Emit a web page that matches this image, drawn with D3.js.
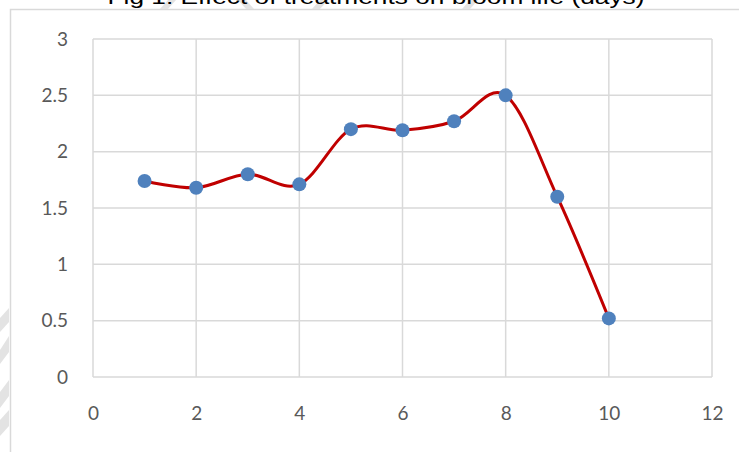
<!DOCTYPE html>
<html>
<head>
<meta charset="utf-8">
<script src="https://cdn.jsdelivr.net/npm/d3@7"></script>
<style>
  body { margin: 0; background: #fff; }
  svg { display: block; }
</style>
</head>
<body>
<script>
// values
const treatments = [1, 2, 3, 4, 5, 6, 7, 8, 9, 10];
const bloomLife = [1.74, 1.68, 1.80, 1.71, 2.20, 2.19, 2.27, 2.50, 1.60, 0.52];
const xTicks = [0, 2, 4, 6, 8, 10, 12];
const yTicks = [0, 0.5, 1, 1.5, 2, 2.5, 3];
const title = "Fig 1: Effect of treatments on bloom life (days)";

const W = 739, H = 452;
const margin = {top: 39, right: 27, bottom: 75, left: 93};
const width = W - margin.left - margin.right;
const height = H - margin.top - margin.bottom;

const svg = d3.select("body").append("svg")
  .attr("width", W)
  .attr("height", H);

// chart frame (extends past the crop on right/bottom)
svg.append("rect")
  .attr("x", 10.5).attr("y", 9.5)
  .attr("width", W + 20).attr("height", H + 20)
  .attr("fill", "none")
  .attr("stroke", "#d9d9d9")
  .attr("stroke-width", 1.5);

// faint watermark fragments
const wm = svg.append("g").attr("fill", "#e3e3e3");
wm.append("polygon").attr("points", "0,318 9,308 9,322 0,332");
wm.append("polygon").attr("points", "0,350 9,336 9,352 0,364");
wm.append("polygon").attr("points", "0,392 9,380 9,396 0,408");
wm.append("polygon").attr("points", "0,420 9,410 9,426 0,436");
wm.append("polygon").attr("points", "160,9 168,0 176,0 168,9");
wm.append("polygon").attr("points", "238,0 246,0 254,9 246,9");
wm.append("polygon").attr("points", "312,9 320,0 328,0 320,9");
wm.append("polygon").attr("points", "462,9 470,0 478,0 470,9");

const g = svg.append("g")
  .attr("transform", "translate(" + margin.left + "," + margin.top + ")");

const x = d3.scaleLinear().domain([0, 12]).range([0, width]);
const y = d3.scaleLinear().domain([0, 3]).range([height, 0]);

// gridlines
g.append("g")
  .selectAll("line")
  .data(yTicks)
  .enter().append("line")
  .attr("x1", 0).attr("x2", width)
  .attr("y1", d => y(d)).attr("y2", d => y(d))
  .attr("stroke", "#d9d9d9").attr("stroke-width", 1.5);

g.append("g")
  .selectAll("line")
  .data(xTicks)
  .enter().append("line")
  .attr("x1", d => x(d)).attr("x2", d => x(d))
  .attr("y1", 0).attr("y2", height)
  .attr("stroke", "#d9d9d9").attr("stroke-width", 1.5);

// axes (labels only)
const tickFont = "Lato, 'Open Sans', sans-serif";
const yAxis = g.append("g")
  .call(d3.axisLeft(y).tickValues(yTicks).tickSize(0).tickPadding(25).tickFormat(d3.format("")));
const xAxis = g.append("g")
  .attr("transform", "translate(0," + height + ")")
  .call(d3.axisBottom(x).tickValues(xTicks).tickSize(0).tickPadding(30).tickFormat(d3.format("")));
[yAxis, xAxis].forEach(a => {
  a.attr("font-size", 19).attr("font-family", tickFont);
  a.select(".domain").remove();
  a.selectAll("text")
    .attr("font-size", 19)
    .attr("font-family", tickFont)
    .attr("fill", "#595959");
});

// smoothed series line
const pts = treatments.map((t, i) => [t, bloomLife[i]]);
const line = d3.line()
  .x(d => x(d[0]))
  .y(d => y(d[1]))
  .curve(d3.curveCatmullRom.alpha(0));

g.append("path")
  .datum(pts)
  .attr("d", line)
  .attr("fill", "none")
  .attr("stroke", "#c00000")
  .attr("stroke-width", 3);

g.selectAll(".dot")
  .data(pts)
  .enter().append("circle")
  .attr("class", "dot")
  .attr("cx", d => x(d[0]))
  .attr("cy", d => y(d[1]))
  .attr("r", 7)
  .attr("fill", "#4f81bd");

// title, clipped at the top like the source
svg.append("text")
  .attr("x", 376)
  .attr("y", 4)
  .style("text-anchor", "middle")
  .style("font-family", "'Liberation Sans', Arial, sans-serif")
  .style("font-size", "21px")
  .attr("fill", "#000")
  .attr("textLength", 537)
  .attr("lengthAdjust", "spacingAndGlyphs")
  .text(title);
</script>
</body>
</html>
